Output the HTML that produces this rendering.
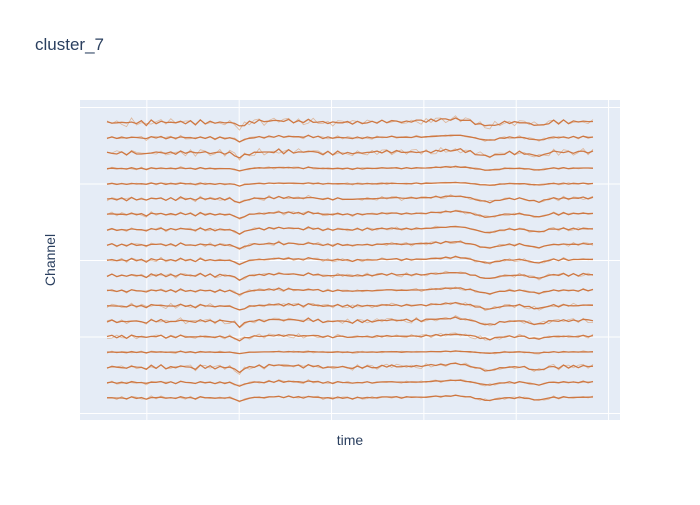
<!DOCTYPE html>
<html><head><meta charset="utf-8">
<style>
body{margin:0;background:#fff;font-family:"Liberation Sans",sans-serif;}
svg text{font-family:"Liberation Sans",sans-serif;fill:#2a3f5f;}
</style></head>
<body>
<svg id="chart" width="700" height="500" xmlns="http://www.w3.org/2000/svg">
<rect width="700" height="500" fill="#fff"/>
<text x="35" y="50" font-size="17">cluster_7</text>
<rect x="80" y="100" width="540" height="320" fill="#e5ecf6"/>
<g id="grid"></g>
<g id="traces"></g>
<text x="350" y="445" font-size="14" text-anchor="middle">time</text>
<text x="55" y="260" font-size="14" text-anchor="middle" transform="rotate(-90 55 260)">Channel</text>
</svg>
<script>
const xTicks=[82,272,462,652,842,1032];
const yTicks=[0,5,10,15,20];
const baseWave=[0,0.08,-0.02,0.06,-0.05,0.1,0,0.05,-0.08,0.1,
 0.02,0.12,-0.03,0.08,-0.04,0.14,0.02,0.06,-0.06,0.12,
 0.0,0.08,-0.04,0.06,-0.02,0.04,-0.1,-0.3,-0.12,0.0,
 0.06,0.1,0.04,0.14,0.1,0.2,0.08,0.16,0.1,0.12,
 0.04,0.18,0.08,0.1,0.0,0.06,-0.02,0.08,0.02,0.04,
 -0.04,0.06,0.0,0.08,0.02,0.05,0.1,0.08,0.12,0.1,
 0.04,0.1,0.06,0.12,0.08,0.1,0.14,0.18,0.16,0.22,
 0.2,0.26,0.22,0.16,0.1,0.0,-0.08,-0.16,-0.2,-0.12,
 -0.04,0.02,0.06,0.0,0.08,0.02,-0.06,-0.12,-0.18,-0.08,
 0.02,0.1,0.0,0.12,0.02,0.1,0.04,0.12,0.06,0.1];
const noiseVals=[0.6,-0.8,0.3,-0.2,0.9,-0.5,0.1,-0.9,0.7,-0.3,0.4,-0.6,0.8,-0.1,0.2,-0.7,0.5,-0.4,1.0,-0.95,0.15,-0.25,0.65,-0.55,0.35,-0.85,0.75,-0.15,0.45,-0.65,0.05,-0.35,0.85,-0.75,0.55,-0.45,0.25];
const channelScale=[1.0,0.8,1.0,0.5,0.4,0.9,0.9,0.9,0.9,0.9,0.9,0.8,0.9,1.0,0.7,0.3,1.0,0.7,0.7];
const channelNoise=[0.18,0.06,0.18,0.04,0.03,0.08,0.06,0.06,0.07,0.06,0.08,0.06,0.09,0.12,0.1,0.03,0.12,0.05,0.05];
const samples=1000;
const X=v=>107+v*0.486;
const Y=v=>413.5-v*15.3;
const ns="http://www.w3.org/2000/svg";
const grid=document.getElementById('grid');
xTicks.forEach(t=>{const l=document.createElementNS(ns,'line');


l.setAttribute('x1',X(t));l.setAttribute('x2',X(t));l.setAttribute('y1',100);l.setAttribute('y2',420);
l.setAttribute('stroke','#fff');l.setAttribute('stroke-width',1);grid.appendChild(l);});
yTicks.forEach(t=>{const l=document.createElementNS(ns,'line');


l.setAttribute('x1',80);l.setAttribute('x2',620);l.setAttribute('y1',Y(t));l.setAttribute('y2',Y(t));
l.setAttribute('stroke','#fff');l.setAttribute('stroke-width',1);grid.appendChild(l);});
const tr=document.getElementById('traces');
const n=channelScale.length;
for(let c=0;c<n;c++){
  const off=n-c;
  let pts=[],pts2=[];
  for(let i=0;i<baseWave.length;i++){
    const b=off+baseWave[i]*channelScale[c];
    const v=b+noiseVals[(i*7+c*13)%noiseVals.length]*channelNoise[c]*0.6;
    const v2=b+noiseVals[(i*11+c*5)%noiseVals.length]*(channelNoise[c]+0.04);
    const xx=X(i*samples/(baseWave.length-1)).toFixed(1);
    pts.push(xx+','+Y(v).toFixed(1));
    pts2.push(xx+','+Y(v2).toFixed(1));
  }
  const q=document.createElementNS(ns,'polyline');
  
  
  q.setAttribute('points',pts2.join(' '));
  q.setAttribute('fill','none');
  q.setAttribute('stroke','#d9925e');
  q.setAttribute('stroke-width',0.8);
  q.setAttribute('stroke-opacity',0.6);
  tr.appendChild(q);
  const p=document.createElementNS(ns,'polyline');
  
  
  p.setAttribute('points',pts.join(' '));
  p.setAttribute('fill','none');
  p.setAttribute('stroke','#cc6e33');
  p.setAttribute('stroke-width',1.3);
  p.setAttribute('stroke-opacity',0.9);
  tr.appendChild(p);
}
</script>
</body></html>
